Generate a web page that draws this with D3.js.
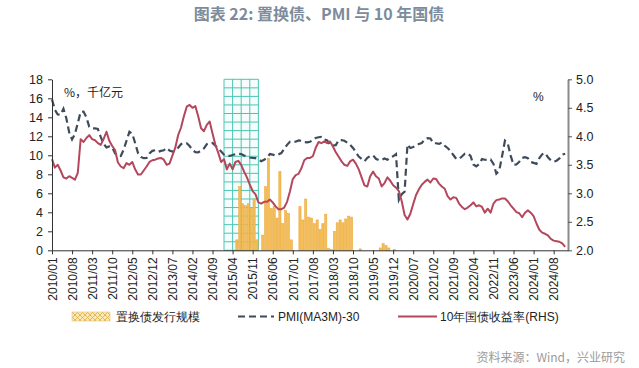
<!DOCTYPE html>
<html>
<head>
<meta charset="utf-8">
<script src="https://cdn.jsdelivr.net/npm/d3@7"></script>
<style>
  body { margin: 0; background: #fff; }
  text { font-family: "Liberation Sans", Arial, sans-serif; }
  .cn { font-family: "Noto Sans CJK SC", sans-serif; }
</style>
</head>
<body>
<div id="chart"></div>
<script>
// x tick labels (every 7 months from 2010/01)
var xTickLabels = ["2010/01","2010/08","2011/03","2011/10","2012/05","2012/12","2013/07","2014/02",
    "2014/09","2015/04","2015/11","2016/06","2017/01","2017/08","2018/03","2018/10","2019/05",
    "2019/12","2020/07","2021/02","2021/09","2022/04","2022/11","2023/06","2024/01","2024/08"];
var leftTicks = [0, 2, 4, 6, 8, 10, 12, 14, 16, 18];
var rightTicks = [2.0, 2.5, 3.0, 3.5, 4.0, 4.5, 5.0];

// PMI(MA3M) series, monthly 2010/01 - 2024/12 (left axis)
var pmi = [
    15.87, 14.8, 14.3, 14.27, 14.9, 13.9, 12.4, 11.67, 12.23, 13.4, 14.57, 14.6,
    14.0, 13.0, 12.83, 12.83, 12.77, 11.93, 11.2, 10.83, 10.93, 10.83, 10.2, 9.9,
    9.93, 10.6, 11.53, 12.47, 12.27, 11.3, 10.23, 9.83, 9.7, 9.73, 10.2, 10.47,
    10.53, 10.37, 10.47, 10.53, 10.77, 10.5, 10.4, 10.47, 10.8, 11.17, 11.3, 11.27,
    10.97, 10.57, 10.33, 10.3, 10.5, 10.73, 11.17, 11.27, 11.3, 11.0, 10.73, 10.4,
    10.07, 9.93, 9.93, 10.03, 10.13, 10.17, 10.13, 9.97, 9.83, 9.77, 9.73, 9.7,
    9.57, 9.37, 9.53, 9.77, 10.13, 10.07, 10.0, 10.1, 10.23, 10.67, 11.1, 11.43,
    11.47, 11.43, 11.57, 11.53, 11.4, 11.37, 11.43, 11.6, 11.83, 11.9, 11.93, 11.67,
    11.57, 11.07, 11.03, 11.07, 11.6, 11.6, 11.53, 11.33, 11.1, 10.77, 10.33, 9.87,
    9.63, 9.37, 9.73, 9.93, 10.0, 9.63, 9.5, 9.53, 9.67, 9.53, 9.77, 9.9,
    10.13, 5.3, 5.9, 6.17, 11.13, 10.77, 10.87, 11.0, 11.2, 11.3, 11.67, 11.8,
    11.77, 11.27, 11.27, 11.2, 11.33, 11.0, 10.77, 10.47, 10.03, 9.63, 9.63, 9.87,
    10.17, 10.2, 9.93, 9.03, 8.83, 9.07, 9.6, 9.53, 9.5, 9.57, 9.1, 8.07,
    8.37, 9.9, 11.53, 11.23, 9.97, 9.0, 9.03, 9.33, 9.73, 9.8, 9.7, 9.3,
    9.2, 9.1, 9.7, 10.1, 10.23, 9.8, 9.47, 9.33, 9.43, 9.67, 10.07, 10.17
];

// 10Y government bond yield, monthly 2010/01 - 2024/12 (right axis)
var yield10 = [
    3.60, 3.45, 3.50, 3.40, 3.28, 3.26, 3.30, 3.27, 3.24, 3.36, 3.95, 3.90,
    3.97, 4.02, 3.95, 3.93, 3.88, 3.85, 3.95, 4.08, 3.92, 3.83, 3.76, 3.54,
    3.47, 3.44, 3.53, 3.50, 3.55, 3.42, 3.33, 3.33, 3.40, 3.47, 3.55, 3.58,
    3.59, 3.61, 3.62, 3.59, 3.50, 3.52, 3.66, 3.80, 4.02, 4.15, 4.35, 4.52,
    4.55, 4.50, 4.53, 4.35, 4.14, 4.09, 4.20, 4.26, 4.05, 3.85, 3.71, 3.55,
    3.60, 3.42, 3.52, 3.42, 3.55, 3.57, 3.50, 3.38, 3.28, 3.15, 3.04, 2.98,
    2.84, 2.82, 2.85, 2.85, 2.89, 2.84, 2.77, 2.72, 2.72, 2.75, 2.85, 3.03,
    3.25, 3.32, 3.34, 3.44, 3.58, 3.62, 3.62, 3.65, 3.80, 3.90, 3.88, 3.91,
    3.88, 3.91, 3.82, 3.72, 3.64, 3.56, 3.50, 3.48, 3.56, 3.59, 3.52, 3.42,
    3.28, 3.14, 3.12, 3.30, 3.38, 3.30, 3.26, 3.12, 3.18, 3.28, 3.22, 3.14,
    3.10, 3.04, 2.86, 2.62, 2.54, 2.64, 2.81, 2.97, 3.07, 3.15, 3.20, 3.24,
    3.19, 3.26, 3.25, 3.17, 3.12, 3.08, 2.95, 2.89, 2.93, 2.92, 2.82, 2.76,
    2.72, 2.75, 2.79, 2.84, 2.77, 2.79, 2.76, 2.66, 2.73, 2.66, 2.82, 2.88,
    2.89, 2.91, 2.91, 2.86, 2.79, 2.73, 2.67, 2.65, 2.58, 2.66, 2.70, 2.66,
    2.60, 2.47, 2.36, 2.31, 2.29, 2.26, 2.20, 2.17, 2.16, 2.15, 2.12, 2.06
];

// replacement bond issuance (千亿元)
var bondMonths = ["2015/05","2015/06","2015/07","2015/08","2015/09","2015/10","2015/11","2015/12",
    "2016/02","2016/03","2016/04","2016/05","2016/06","2016/07","2016/08","2016/09","2016/10","2016/11","2016/12",
    "2017/03","2017/04","2017/05","2017/06","2017/07","2017/08","2017/09","2017/10","2017/11","2017/12",
    "2018/01","2018/02","2018/03","2018/04","2018/05","2018/06","2018/07","2018/08","2018/09","2018/12",
    "2019/07","2019/08","2019/09","2019/10","2019/12"];
var bondValues = [1.1, 6.7, 4.9, 4.7, 4.9, 4.5, 5.4, 1.1,
    1.6, 6.7, 9.7, 4.4, 4.6, 3.4, 8.3, 2.8, 4.2, 3.9, 1.1,
    4.6, 3.2, 5.4, 3.5, 3.4, 2.8, 3.2, 2.2, 2.8, 3.8,
    0.2, 0.1, 2.0, 2.9, 3.2, 2.9, 3.3, 3.6, 3.5, 0.15,
    0.25, 0.7, 0.5, 0.25, 0.1];

// shaded period
var highlight = ["2015/01", "2016/01"];

var monthIndex = (s) => {
    var p = s.split("/");
    return (+p[0] - 2010) * 12 + (+p[1] - 1);
}

var width = 639
var height = 368

var svg = d3.select("#chart")
    .append("svg")
    .attr("width", width)
    .attr("height", height)

var defs = svg.append("defs")
var hatch = defs.append("pattern")
    .attr("id", "hatch")
    .attr("patternUnits", "userSpaceOnUse")
    .attr("width", 5).attr("height", 5)
hatch.append("rect").attr("width", 5).attr("height", 5).attr("fill", "#fbeab8")
hatch.append("path").attr("d", "M0,0L5,5M5,0L0,5")
    .attr("stroke", "#e2b24e").attr("stroke-width", 0.9)

var x = d3.scaleLinear().domain([0, 180]).range([52, 568])
var yL = d3.scaleLinear().domain([0, 18]).range([250.3, 79.3])
var yR = d3.scaleLinear().domain([2, 5]).range([250.3, 79.3])

// title
svg.append("text")
    .attr("class", "cn")
    .attr("x", 319).attr("y", 20)
    .attr("text-anchor", "middle")
    .style("font-size", "16px")
    .style("font-weight", "bold")
    .style("fill", "#7d8c9c")
    .text("图表 22: 置换债、PMI 与 10 年国债")

// teal grid block
var hx0 = x(monthIndex(highlight[0])), hx1 = x(monthIndex(highlight[1]))
var hy0 = yL(18), hy1 = yL(0)
var grid = svg.append("g")
grid.append("rect")
    .attr("x", hx0).attr("y", hy0)
    .attr("width", hx1 - hx0).attr("height", hy1 - hy0)
    .attr("fill", "#f6fcfb")
d3.range(0, 5).forEach((k) => {
    var gx = hx0 + k * (hx1 - hx0) / 4
    grid.append("line").attr("x1", gx).attr("x2", gx).attr("y1", hy0).attr("y2", hy1)
        .attr("stroke", "#4cc6b3").attr("stroke-width", 1)
})
d3.range(0, 21).forEach((k) => {
    var gy = hy0 + k * (hy1 - hy0) / 20
    grid.append("line").attr("x1", hx0).attr("x2", hx1).attr("y1", gy).attr("y2", gy)
        .attr("stroke", "#4cc6b3").attr("stroke-width", 1)
})

// bars
var step = x(1) - x(0)
svg.append("g")
    .selectAll("rect")
    .data(bondValues)
    .enter()
    .append("rect")
    .attr("x", (d, i) => x(monthIndex(bondMonths[i]) + 0.5) - 1.1)
    .attr("width", 2.2)
    .attr("y", (d) => yL(d))
    .attr("height", (d) => yL(0) - yL(d))
    .attr("fill", "#f4bd55")
    .attr("stroke", "#eaa63a")
    .attr("stroke-width", 0.5)

// lines
var pmiLine = d3.line().x((d, i) => x(i)).y((d) => yL(d))
var yieldLine = d3.line().x((d, i) => x(i)).y((d) => yR(d))

svg.append("path")
    .datum(pmi)
    .attr("d", pmiLine)
    .attr("fill", "none")
    .attr("stroke", "#3e4b5b")
    .attr("stroke-width", 2.2)
    .attr("stroke-dasharray", "7,4")

svg.append("path")
    .datum(yield10)
    .attr("d", yieldLine)
    .attr("fill", "none")
    .attr("stroke", "#b5475d")
    .attr("stroke-width", 2)
    .attr("stroke-linejoin", "round")

// axes
var leftAxis = svg.append("g")
    .attr("transform", "translate(52,0)")
    .call(d3.axisLeft(yL).tickValues(leftTicks).tickSize(4).tickSizeOuter(0).tickPadding(5))
leftAxis.select(".domain").attr("stroke", "#333")
leftAxis.selectAll("line").attr("stroke", "#333")
leftAxis.selectAll("text").style("font-size", "12.5px").style("fill", "#222")
    .style("font-family", "'Liberation Sans', Arial, sans-serif")

var rightAxis = svg.append("g")
    .attr("transform", "translate(568,0)")
    .call(d3.axisRight(yR).tickValues(rightTicks).tickFormat(d3.format(".1f")).tickSize(4).tickSizeOuter(0).tickPadding(4))
rightAxis.select(".domain").attr("stroke", "#8a8a8a").attr("stroke-width", 2)
rightAxis.selectAll("line").attr("stroke", "#555")
rightAxis.selectAll("text").style("font-size", "12.5px").style("fill", "#222")
    .style("font-family", "'Liberation Sans', Arial, sans-serif")

var tickIdx = xTickLabels.map((s) => monthIndex(s))
var bottomAxis = svg.append("g")
    .attr("transform", "translate(0," + yL(0) + ")")
    .call(d3.axisBottom(x).tickValues(tickIdx).tickFormat((d, i) => xTickLabels[i]).tickSize(4).tickSizeOuter(0))
bottomAxis.select(".domain").attr("stroke", "#333")
bottomAxis.selectAll("line").attr("stroke", "#333")
bottomAxis.selectAll("text")
    .style("font-size", "12px")
    .style("fill", "#222")
    .style("font-family", "'Liberation Sans', Arial, sans-serif")
    .attr("text-anchor", "end")
    .attr("transform", "rotate(-90)")
    .attr("x", -7)
    .attr("y", 0)
    .attr("dy", "0.35em")

// unit labels
svg.append("text").attr("class", "cn")
    .attr("x", 64).attr("y", 97)
    .style("font-size", "12px").style("fill", "#222")
    .text("%，千亿元")
svg.append("text")
    .attr("x", 533).attr("y", 101)
    .style("font-size", "12px").style("fill", "#222")
    .text("%")

// legend
var lg = svg.append("g").attr("class", "cn").style("font-size", "12px")
lg.append("rect").attr("x", 72).attr("y", 312).attr("width", 38).attr("height", 9)
    .attr("fill", "url(#hatch)").attr("stroke", "#e6c277").attr("stroke-width", 0.6)
lg.append("text").attr("x", 116).attr("y", 321).style("fill", "#222").text("置换债发行规模")
lg.append("line").attr("x1", 238).attr("x2", 274).attr("y1", 316.5).attr("y2", 316.5)
    .attr("stroke", "#3e4b5b").attr("stroke-width", 2.2).attr("stroke-dasharray", "7,4")
lg.append("text").attr("x", 278).attr("y", 321).style("fill", "#222").text("PMI(MA3M)-30")
lg.append("line").attr("x1", 398).attr("x2", 437).attr("y1", 316.5).attr("y2", 316.5)
    .attr("stroke", "#b5475d").attr("stroke-width", 2)
lg.append("text").attr("x", 440).attr("y", 321).style("fill", "#222").text("10年国债收益率(RHS)")

// source
svg.append("text").attr("class", "cn")
    .attr("x", 625).attr("y", 362)
    .attr("text-anchor", "end")
    .style("font-size", "12px").style("fill", "#9a9a9a")
    .text("资料来源：Wind，兴业研究")
</script>
</body>
</html>
